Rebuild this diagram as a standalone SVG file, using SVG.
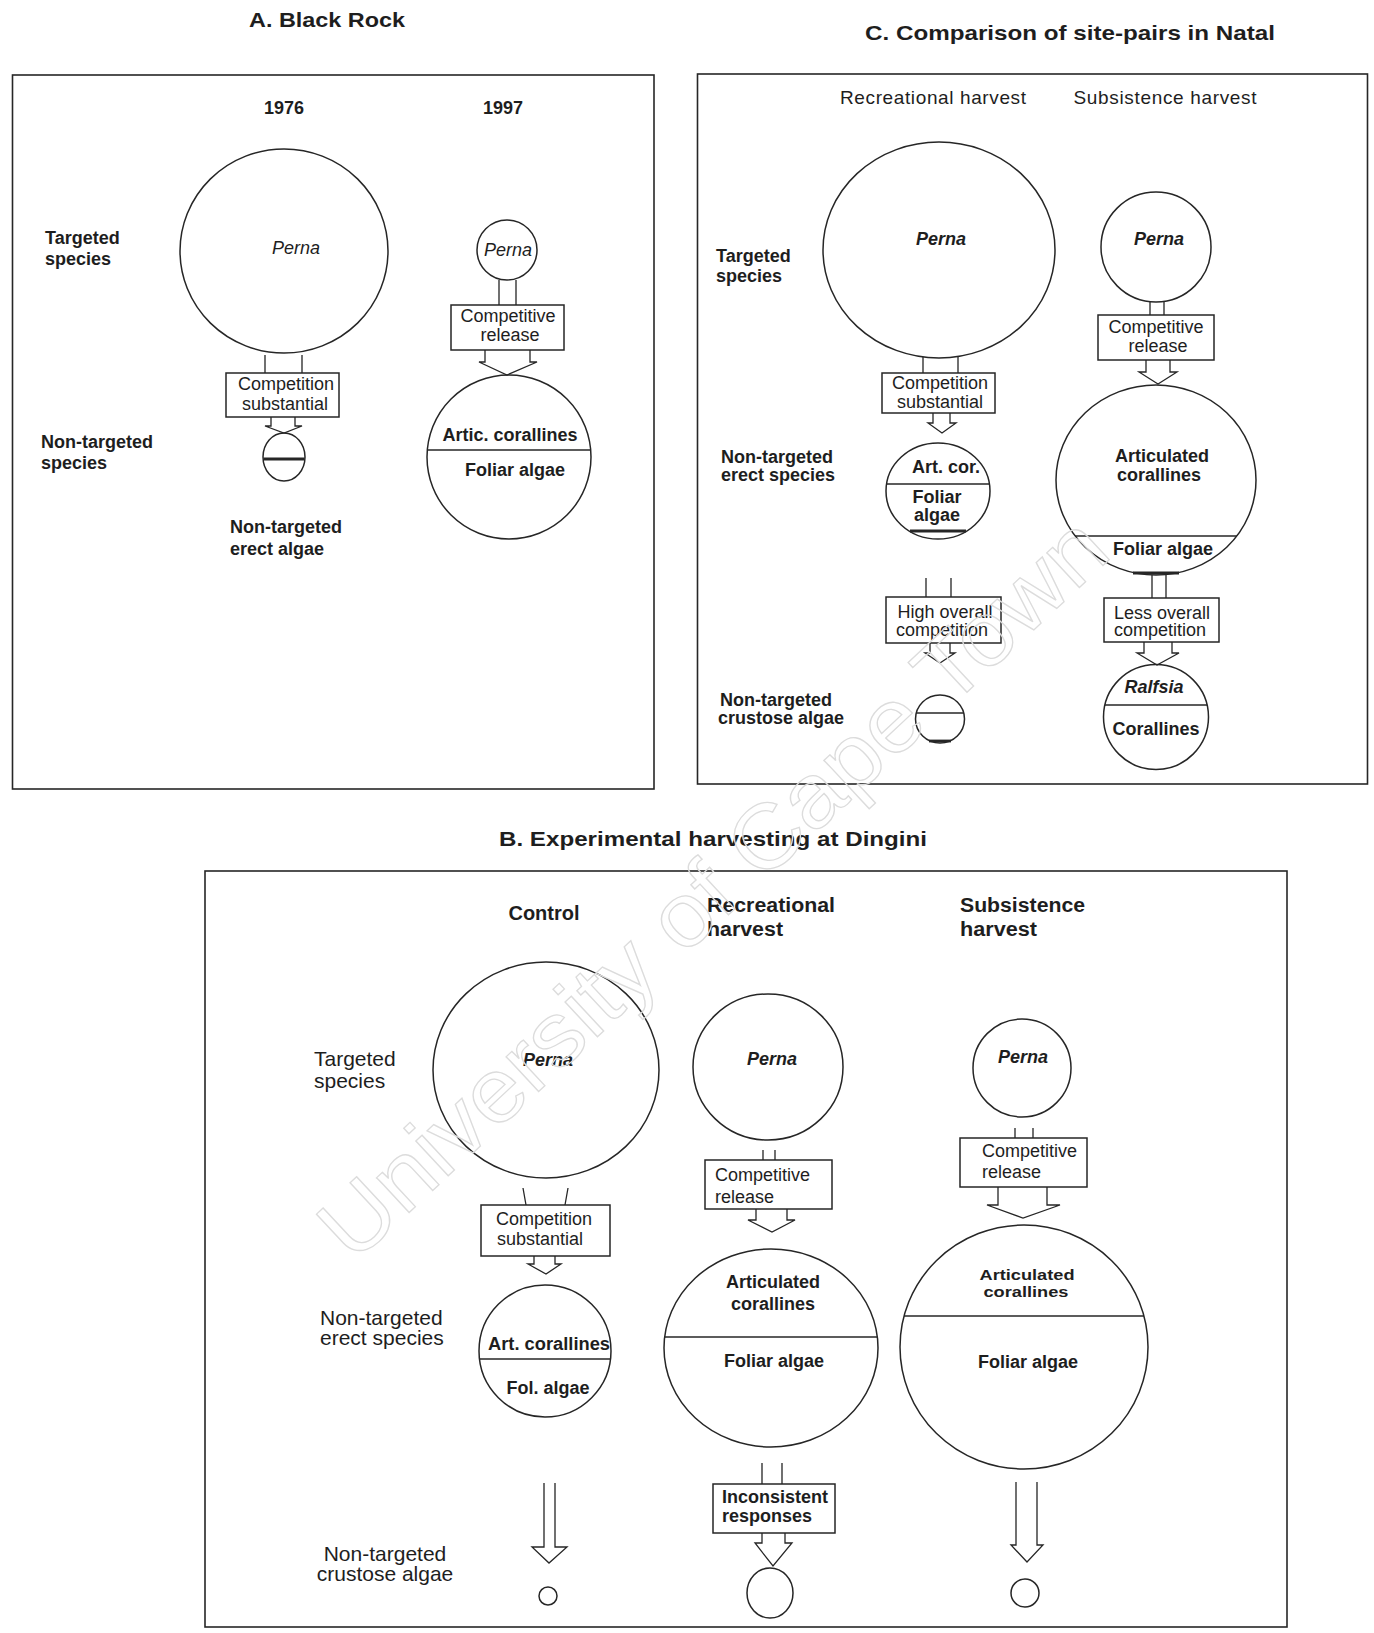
<svg xmlns="http://www.w3.org/2000/svg" width="1374" height="1633" viewBox="0 0 1374 1633">
  <defs>
    <style>
      .frame{fill:none;stroke:#262626;stroke-width:1.6}
      .node{fill:none;stroke:#262626;stroke-width:1.5}
      .split{fill:none;stroke:#262626;stroke-width:1.7}
      .chord{fill:none;stroke:#262626;stroke-width:2.8}
      .box{fill:#fff;stroke:#262626;stroke-width:1.5}
      .conn{fill:none;stroke:#262626;stroke-width:1.3}
      text{font-family:"Liberation Sans",Arial,Helvetica,sans-serif;fill:#1e1e1e;font-size:18px}
      .c{text-anchor:middle}
      .b{font-weight:bold}
      .i{font-style:italic}
      .sm{font-size:15.5px}
      .ttl{font-size:21px;font-weight:bold}
      .hd{font-size:19px}
      .big{font-size:20px}
      .lab{font-size:21px}
      .wm{font-size:90px;fill:none;stroke:#dcdcdc;stroke-width:1.3}
    </style>
  </defs>

  <rect x="0" y="0" width="1374" height="1633" fill="#fff"/>

  <!-- Panel A: Black Rock -->
  <g id="panel-a">
    <text class="ttl c" x="327" y="27" textLength="156" lengthAdjust="spacingAndGlyphs">A. Black Rock</text>
    <rect class="frame" x="12.5" y="75" width="641.5" height="714"/>
    <text class="b c" x="284" y="114">1976</text>
    <text class="b c" x="503" y="114">1997</text>
    <text class="b" x="45" y="244">Targeted</text>
    <text class="b" x="45" y="265">species</text>
    <text class="b" x="41" y="448">Non-targeted</text>
    <text class="b" x="41" y="469">species</text>
    <text class="b" x="230" y="533">Non-targeted</text>
    <text class="b" x="230" y="555">erect algae</text>
  </g>
  <g id="a-1976-perna">
    <ellipse class="node" cx="284" cy="251" rx="104" ry="102"/>
    <text class="i c" x="296" y="254">Perna</text>
  </g>
  <g id="a-1976-competition">
    <rect class="box" x="226" y="373" width="113" height="44"/>
    <text class="c" x="286" y="390">Competition</text>
    <text class="c" x="285" y="410">substantial</text>
  </g>
  <g id="a-1976-erect">
    <ellipse class="node" cx="284" cy="457" rx="21" ry="24"/>
    <line class="chord" x1="263.5" y1="459" x2="304.5" y2="459"/>
  </g>
  <g id="a-1997-perna">
    <circle class="node" cx="507" cy="250" r="30"/>
    <text class="i c" x="508" y="256">Perna</text>
  </g>
  <g id="a-1997-release">
    <rect class="box" x="451" y="305" width="113" height="45"/>
    <text class="c" x="508" y="322">Competitive</text>
    <text class="c" x="510" y="341">release</text>
  </g>
  <g id="a-1997-erect">
    <circle class="node" cx="509" cy="457" r="82"/>
    <line class="split" x1="427.5" y1="450" x2="590.5" y2="450"/>
    <text class="b c" x="510" y="441">Artic. corallines</text>
    <text class="b c" x="515" y="476">Foliar algae</text>
  </g>

  <!-- Panel C: site-pairs in Natal -->
  <g id="panel-c">
    <text class="ttl c" x="1070" y="40" textLength="410" lengthAdjust="spacingAndGlyphs">C. Comparison of site-pairs in Natal</text>
    <rect class="frame" x="697.5" y="74" width="670" height="710"/>
    <text class="hd c" x="933" y="104" textLength="186" lengthAdjust="spacing">Recreational harvest</text>
    <text class="hd c" x="1165" y="104" textLength="183" lengthAdjust="spacing">Subsistence harvest</text>
    <text class="b" x="716" y="262">Targeted</text>
    <text class="b" x="716" y="282">species</text>
    <text class="b" x="721" y="463">Non-targeted</text>
    <text class="b" x="721" y="481">erect species</text>
    <text class="b" x="720" y="706">Non-targeted</text>
    <text class="b" x="718" y="724">crustose algae</text>
  </g>
  <g id="c-rec-perna">
    <ellipse class="node" cx="939" cy="250" rx="116" ry="108"/>
    <text class="b i c" x="941" y="245">Perna</text>
  </g>
  <g id="c-rec-competition">
    <rect class="box" x="882" y="373" width="113" height="40"/>
    <text class="c" x="940" y="389">Competition</text>
    <text class="c" x="940" y="408">substantial</text>
  </g>
  <g id="c-rec-erect">
    <ellipse class="node" cx="938" cy="491" rx="52" ry="48"/>
    <line class="split" x1="886.6" y1="484" x2="989.4" y2="484"/>
    <line class="chord" x1="910" y1="531" x2="966" y2="531"/>
    <text class="b c" x="946" y="473">Art. cor.</text>
    <text class="b c" x="937" y="503">Foliar</text>
    <text class="b c" x="937" y="521">algae</text>
  </g>
  <g id="c-rec-high">
    <rect class="box" x="886" y="597" width="115" height="46"/>
    <text class="c" x="945" y="618">High overall</text>
    <text class="c" x="942" y="636">competition</text>
  </g>
  <g id="c-rec-crustose">
    <ellipse class="node" cx="940" cy="719" rx="24.5" ry="24"/>
    <line class="split" x1="916.3" y1="713" x2="963.7" y2="713"/>
    <line class="chord" x1="929" y1="741" x2="951" y2="741"/>
  </g>
  <g id="c-sub-perna">
    <circle class="node" cx="1156" cy="247" r="55"/>
    <text class="b i c" x="1159" y="245">Perna</text>
  </g>
  <g id="c-sub-release">
    <rect class="box" x="1098" y="315" width="116" height="45"/>
    <text class="c" x="1156" y="333">Competitive</text>
    <text class="c" x="1158" y="352">release</text>
  </g>
  <g id="c-sub-erect">
    <ellipse class="node" cx="1156" cy="480" rx="100" ry="95"/>
    <line class="split" x1="1075.2" y1="536" x2="1236.8" y2="536"/>
    <line class="chord" x1="1133" y1="573" x2="1179" y2="573"/>
    <text class="b c" x="1162" y="462">Articulated</text>
    <text class="b c" x="1159" y="481">corallines</text>
    <text class="b c" x="1163" y="555">Foliar algae</text>
  </g>
  <g id="c-sub-less">
    <rect class="box" x="1104" y="598" width="115" height="44"/>
    <text class="c" x="1162" y="619">Less overall</text>
    <text class="c" x="1160" y="636">competition</text>
  </g>
  <g id="c-sub-crustose">
    <circle class="node" cx="1156" cy="717" r="52.5"/>
    <line class="split" x1="1104.9" y1="705" x2="1207.1" y2="705"/>
    <text class="b i c" x="1154" y="693">Ralfsia</text>
    <text class="b c" x="1156" y="735">Corallines</text>
  </g>

  <!-- Panel B: experimental harvesting at Dingini -->
  <g id="panel-b">
    <text class="ttl c" x="713" y="846" textLength="428" lengthAdjust="spacingAndGlyphs">B. Experimental harvesting at Dingini</text>
    <rect class="frame" x="205" y="871" width="1082" height="756"/>
    <text class="big b c" x="544" y="920">Control</text>
    <text class="big b" x="707" y="912" textLength="128" lengthAdjust="spacingAndGlyphs">Recreational</text>
    <text class="big b" x="707" y="936" textLength="76" lengthAdjust="spacingAndGlyphs">harvest</text>
    <text class="big b" x="960" y="912" textLength="125" lengthAdjust="spacingAndGlyphs">Subsistence</text>
    <text class="big b" x="960" y="936" textLength="77" lengthAdjust="spacingAndGlyphs">harvest</text>
    <text class="lab" x="314" y="1066">Targeted</text>
    <text class="lab" x="314" y="1088">species</text>
    <text class="lab" x="320" y="1325">Non-targeted</text>
    <text class="lab" x="320" y="1345">erect species</text>
    <text class="lab c" x="385" y="1561">Non-targeted</text>
    <text class="lab c" x="385" y="1581">crustose algae</text>
  </g>
  <g id="b-control-perna">
    <ellipse class="node" cx="546" cy="1070" rx="113" ry="108"/>
    <text class="b i c" x="548" y="1066">Perna</text>
  </g>
  <g id="b-control-competition">
    <rect class="box" x="481" y="1205" width="129" height="51"/>
    <text class="c" x="544" y="1225">Competition</text>
    <text class="c" x="540" y="1245">substantial</text>
  </g>
  <g id="b-control-erect">
    <circle class="node" cx="545" cy="1351" r="66"/>
    <line class="split" x1="479.5" y1="1359" x2="610.5" y2="1359"/>
    <text class="b c" x="549" y="1350" textLength="122" lengthAdjust="spacingAndGlyphs">Art. corallines</text>
    <text class="b c" x="548" y="1394">Fol. algae</text>
  </g>
  <g id="b-control-crustose">
    <circle class="node" cx="548" cy="1596" r="9"/>
  </g>
  <g id="b-rec-perna">
    <ellipse class="node" cx="768" cy="1067" rx="75" ry="73"/>
    <text class="b i c" x="772" y="1065">Perna</text>
  </g>
  <g id="b-rec-release">
    <rect class="box" x="705" y="1160" width="127" height="49"/>
    <text x="715" y="1181">Competitive</text>
    <text x="715" y="1203">release</text>
  </g>
  <g id="b-rec-erect">
    <ellipse class="node" cx="771" cy="1348" rx="107" ry="99"/>
    <line class="split" x1="664.7" y1="1337" x2="877.3" y2="1337"/>
    <text class="b c" x="773" y="1288">Articulated</text>
    <text class="b c" x="773" y="1310">corallines</text>
    <text class="b c" x="774" y="1367">Foliar algae</text>
  </g>
  <g id="b-rec-inconsistent">
    <rect class="box" x="713" y="1484" width="122" height="49"/>
    <text class="b" x="722" y="1503">Inconsistent</text>
    <text class="b" x="722" y="1522">responses</text>
  </g>
  <g id="b-rec-crustose">
    <ellipse class="node" cx="770" cy="1593" rx="23" ry="25"/>
  </g>
  <g id="b-sub-perna">
    <circle class="node" cx="1022" cy="1068" r="49"/>
    <text class="b i c" x="1023" y="1063">Perna</text>
  </g>
  <g id="b-sub-release">
    <rect class="box" x="960" y="1138" width="127" height="49"/>
    <text x="982" y="1157">Competitive</text>
    <text x="982" y="1178">release</text>
  </g>
  <g id="b-sub-erect">
    <ellipse class="node" cx="1024" cy="1347" rx="124" ry="122"/>
    <line class="split" x1="904.1" y1="1316" x2="1143.9" y2="1316"/>
    <text class="b c sm" x="1027" y="1280" textLength="95" lengthAdjust="spacingAndGlyphs">Articulated</text>
    <text class="b c sm" x="1026" y="1297" textLength="85" lengthAdjust="spacingAndGlyphs">corallines</text>
    <text class="b c" x="1028" y="1368">Foliar algae</text>
  </g>
  <g id="b-sub-crustose">
    <circle class="node" cx="1025" cy="1593" r="14"/>
  </g>

  <!-- Connectors: paired lines into boxes, hollow arrows out of them -->
  <g id="connectors">
    <path class="conn" d="M265,355 V373 M302,355 V373"/>
    <path class="conn" d="M271,417 V426 H265 L284,433 L302,426 H295 V417"/>
    <path class="conn" d="M499,280 V305 M516,280 V305"/>
    <path class="conn" d="M485,350 V362 H479 L507,375 L537,362 H530 V350"/>

    <path class="conn" d="M923,357 V373 M958,357 V373"/>
    <path class="conn" d="M933,413 V423 H928 L942,433 L956,423 H950 V413"/>
    <path class="conn" d="M926,578 V597 M951,578 V597"/>
    <path class="conn" d="M930,643 V653 H925 L940,663 L955,653 H950 V643"/>
    <path class="conn" d="M1150,302 V315 M1164,302 V315"/>
    <path class="conn" d="M1146,360 V372 H1139 L1158,384 L1177,372 H1170 V360"/>
    <path class="conn" d="M1152,575 V598 M1166,575 V598"/>
    <path class="conn" d="M1144,642 V653 H1137 L1157,665 L1179,653 H1172 V642"/>

    <path class="conn" d="M523,1188 L526,1205 M568,1188 L565,1205"/>
    <path class="conn" d="M534,1256 V1264 H528 L546,1274 L561,1264 H555 V1256"/>
    <path class="conn" d="M544,1483 V1547 H532 L549,1563 L567,1547 H555 V1483"/>
    <path class="conn" d="M763,1150 V1160 M775,1150 V1160"/>
    <path class="conn" d="M756,1209 V1220 H748 L772,1232 L795,1220 H787 V1209"/>
    <path class="conn" d="M762,1463 V1484 M782,1463 V1484"/>
    <path class="conn" d="M762,1533 V1543 H755 L773,1566 L792,1543 H785 V1533"/>
    <path class="conn" d="M1015,1128 V1138 M1033,1128 V1138"/>
    <path class="conn" d="M998,1187 V1205 H987 L1023,1218 L1060,1205 H1047 V1187"/>
    <path class="conn" d="M1016,1482 V1545 H1011 L1027,1562 L1043,1545 H1037 V1482"/>
  </g>

  <!-- Faint diagonal watermark across the figure -->
  <g transform="translate(713,888) rotate(-43)">
    <text class="wm c" x="0" y="30" textLength="1040" lengthAdjust="spacingAndGlyphs">University of Cape Town</text>
  </g>
</svg>
